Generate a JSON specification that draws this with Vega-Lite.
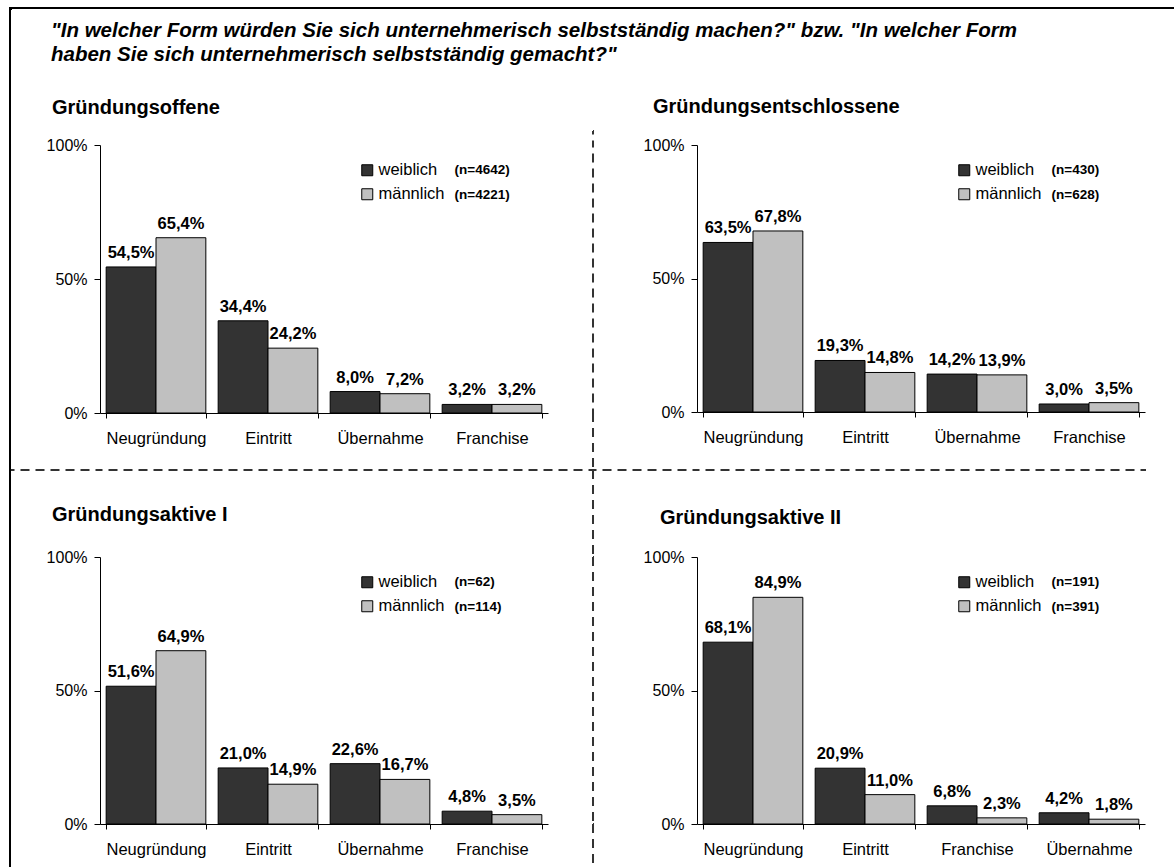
{
  "$schema": "https://vega.github.io/schema/vega-lite/v6.json",
  "background": "white",
  "padding": {"left": 9, "top": 7, "right": 0, "bottom": 0},
  "data": {"values": [{"a": 1}]},
  "datasets": {
    "p1": [
      {"kat": "Neugründung", "g": "weiblich", "wert": 0.545, "nlab": "(n=4642)"},
      {"kat": "Neugründung", "g": "männlich", "wert": 0.654, "nlab": "(n=4221)"},
      {"kat": "Eintritt", "g": "weiblich", "wert": 0.344, "nlab": "(n=4642)"},
      {"kat": "Eintritt", "g": "männlich", "wert": 0.242, "nlab": "(n=4221)"},
      {"kat": "Übernahme", "g": "weiblich", "wert": 0.080, "nlab": "(n=4642)"},
      {"kat": "Übernahme", "g": "männlich", "wert": 0.072, "nlab": "(n=4221)"},
      {"kat": "Franchise", "g": "weiblich", "wert": 0.032, "nlab": "(n=4642)"},
      {"kat": "Franchise", "g": "männlich", "wert": 0.032, "nlab": "(n=4221)"}
    ],
    "p2": [
      {"kat": "Neugründung", "g": "weiblich", "wert": 0.635, "nlab": "(n=430)"},
      {"kat": "Neugründung", "g": "männlich", "wert": 0.678, "nlab": "(n=628)"},
      {"kat": "Eintritt", "g": "weiblich", "wert": 0.193, "nlab": "(n=430)"},
      {"kat": "Eintritt", "g": "männlich", "wert": 0.148, "nlab": "(n=628)"},
      {"kat": "Übernahme", "g": "weiblich", "wert": 0.142, "nlab": "(n=430)"},
      {"kat": "Übernahme", "g": "männlich", "wert": 0.139, "nlab": "(n=628)"},
      {"kat": "Franchise", "g": "weiblich", "wert": 0.030, "nlab": "(n=430)"},
      {"kat": "Franchise", "g": "männlich", "wert": 0.035, "nlab": "(n=628)"}
    ],
    "p3": [
      {"kat": "Neugründung", "g": "weiblich", "wert": 0.516, "nlab": "(n=62)"},
      {"kat": "Neugründung", "g": "männlich", "wert": 0.649, "nlab": "(n=114)"},
      {"kat": "Eintritt", "g": "weiblich", "wert": 0.210, "nlab": "(n=62)"},
      {"kat": "Eintritt", "g": "männlich", "wert": 0.149, "nlab": "(n=114)"},
      {"kat": "Übernahme", "g": "weiblich", "wert": 0.226, "nlab": "(n=62)"},
      {"kat": "Übernahme", "g": "männlich", "wert": 0.167, "nlab": "(n=114)"},
      {"kat": "Franchise", "g": "weiblich", "wert": 0.048, "nlab": "(n=62)"},
      {"kat": "Franchise", "g": "männlich", "wert": 0.035, "nlab": "(n=114)"}
    ],
    "p4": [
      {"kat": "Neugründung", "g": "weiblich", "wert": 0.681, "nlab": "(n=191)"},
      {"kat": "Neugründung", "g": "männlich", "wert": 0.849, "nlab": "(n=391)"},
      {"kat": "Eintritt", "g": "weiblich", "wert": 0.209, "nlab": "(n=191)"},
      {"kat": "Eintritt", "g": "männlich", "wert": 0.110, "nlab": "(n=391)"},
      {"kat": "Franchise", "g": "weiblich", "wert": 0.068, "nlab": "(n=191)"},
      {"kat": "Franchise", "g": "männlich", "wert": 0.023, "nlab": "(n=391)"},
      {"kat": "Übernahme", "g": "weiblich", "wert": 0.042, "nlab": "(n=191)"},
      {"kat": "Übernahme", "g": "männlich", "wert": 0.018, "nlab": "(n=391)"}
    ]
  },
  "columns": 8,
  "spacing": {"row": 0, "column": 0},
  "align": "each",
  "bounds": "flush",
  "resolve": {
    "scale": {"color": "independent", "shape": "independent"},
    "legend": {"color": "independent", "shape": "independent"}
  },
  "concat": [
    {"width": 1, "height": 1, "view": {"stroke": "black", "strokeWidth": 2}, "mark": {"type": "point", "size": 0, "opacity": 0}, "encoding": {}},
    {"width": 89, "height": 0.01, "view": {"stroke": "black", "strokeWidth": 2},
     "title": {"text": ["\"In welcher Form würden Sie sich unternehmerisch selbstständig machen?\" bzw. \"In welcher Form", "haben Sie sich unternehmerisch selbstständig gemacht?\""], "orient": "bottom", "anchor": "start", "frame": "group", "dx": 40, "offset": 13, "baseline": "top", "fontSize": 20.5, "fontWeight": "bold", "fontStyle": "italic", "lineHeight": 24, "color": "black"},
     "mark": {"type": "point", "size": 0, "opacity": 0}, "encoding": {}},
    {"width": 448, "height": 0.01, "view": {"stroke": "black", "strokeWidth": 2}, "mark": {"type": "point", "size": 0, "opacity": 0}, "encoding": {}},
    {"width": 45, "height": 0.01, "view": {"stroke": "black", "strokeWidth": 2}, "mark": {"type": "point", "size": 0, "opacity": 0}, "encoding": {}},
    {"width": 1, "height": 0.01, "view": {"stroke": "black", "strokeWidth": 2}, "mark": {"type": "point", "size": 0, "opacity": 0}, "encoding": {}},
    {"width": 103, "height": 0.01, "view": {"stroke": "black", "strokeWidth": 2}, "mark": {"type": "point", "size": 0, "opacity": 0}, "encoding": {}},
    {"width": 448, "height": 0.01, "view": {"stroke": "black", "strokeWidth": 2}, "mark": {"type": "point", "size": 0, "opacity": 0}, "encoding": {}},
    {"width": 28, "height": 0.01, "view": {"stroke": "black", "strokeWidth": 2}, "mark": {"type": "point", "size": 0, "opacity": 0}, "encoding": {}},

    {"width": 0.01, "height": 122, "view": {"stroke": "black", "strokeWidth": 2}, "mark": {"type": "point", "size": 0, "opacity": 0}, "encoding": {}},
    {"width": 89, "height": 0.01, "mark": {"type": "point", "size": 0, "opacity": 0}, "encoding": {}},
    {"width": 448, "height": 0.01, "mark": {"type": "point", "size": 0, "opacity": 0}, "encoding": {}},
    {"width": 45, "height": 0.01, "mark": {"type": "point", "size": 0, "opacity": 0}, "encoding": {}},
    {"width": 0.01, "height": 0.01, "mark": {"type": "point", "size": 0, "opacity": 0}, "encoding": {}},
    {"width": 103, "height": 0.01, "mark": {"type": "point", "size": 0, "opacity": 0}, "encoding": {}},
    {"width": 448, "height": 0.01, "mark": {"type": "point", "size": 0, "opacity": 0}, "encoding": {}},
    {"width": 28, "height": 0.01, "mark": {"type": "point", "size": 0, "opacity": 0}, "encoding": {}},

    {"width": 0.01, "height": 14, "view": {"stroke": "black", "strokeWidth": 2}, "mark": {"type": "point", "size": 0, "opacity": 0}, "encoding": {}},
    {"width": 89, "height": 0.01, "mark": {"type": "point", "size": 0, "opacity": 0}, "encoding": {}},
    {"width": 448, "height": 0.01, "mark": {"type": "point", "size": 0, "opacity": 0}, "encoding": {}},
    {"width": 45, "height": 0.01, "mark": {"type": "point", "size": 0, "opacity": 0}, "encoding": {}},
    {"width": 0.01, "height": 14, "view": {"stroke": "#333333", "strokeWidth": 2, "strokeDash": [9, 6], "strokeDashOffset": 5.5}, "mark": {"type": "point", "size": 0, "opacity": 0}, "encoding": {}},
    {"width": 103, "height": 0.01, "mark": {"type": "point", "size": 0, "opacity": 0}, "encoding": {}},
    {"width": 448, "height": 0.01, "mark": {"type": "point", "size": 0, "opacity": 0}, "encoding": {}},
    {"width": 28, "height": 0.01, "mark": {"type": "point", "size": 0, "opacity": 0}, "encoding": {}},

    {"width": 0.01, "height": 268, "view": {"stroke": "black", "strokeWidth": 2}, "mark": {"type": "point", "size": 0, "opacity": 0}, "encoding": {}},
    {"width": 89, "height": 0.01, "mark": {"type": "point", "size": 0, "opacity": 0}, "encoding": {}},
    {
      "width": 448, "height": 268,
      "data": {"name": "p1"},
      "title": {"text": "Gründungsoffene", "anchor": "start", "frame": "group", "dx": -48, "offset": 3, "fontSize": 20, "fontWeight": "bold", "color": "black", "baseline": "alphabetic"},
      "encoding": {
        "x": {"field": "kat", "type": "nominal", "sort": ["Neugründung", "Eintritt", "Übernahme", "Franchise"], "scale": {"paddingInner": 0.11, "paddingOuter": 0.055}, "axis": {"title": null, "labelAngle": 0, "tickBand": "extent", "labelPadding": 12, "tickSize": 5}},
        "y": {"field": "wert", "type": "quantitative", "scale": {"domain": [0, 1]}, "axis": {"title": null, "values": [0, 0.5, 1], "format": ".0%", "grid": false, "tickSize": 6, "labelPadding": 7}},
        "xOffset": {"field": "g", "type": "nominal", "sort": ["weiblich", "männlich"], "scale": {"paddingInner": 0, "paddingOuter": 0}}
      },
      "layer": [
        {"mark": {"type": "bar", "stroke": "black", "strokeWidth": 1},
         "encoding": {"color": {"field": "g", "type": "nominal", "sort": ["weiblich", "männlich"], "scale": {"domain": ["weiblich", "männlich"], "range": ["#333333", "#c0c0c0"]},
           "legend": {"title": null, "orient": "none", "legendX": 259, "legendY": 17, "symbolType": "square", "symbolSize": 121, "symbolStrokeColor": "black", "symbolStrokeWidth": 1, "labelFontSize": 16.5, "labelOffset": 3, "rowPadding": 7, "labelColor": "black"}}}},
        {"mark": {"type": "text", "dy": -9, "baseline": "alphabetic", "fontWeight": "bold", "fontSize": 16.5, "color": "black"},
         "encoding": {"text": {"field": "wert", "type": "quantitative", "format": ".1%"}}},
        {"mark": {"type": "point", "opacity": 0, "size": 0},
         "encoding": {"shape": {"field": "nlab", "type": "nominal", "sort": ["(n=4642)", "(n=4221)"],
           "legend": {"title": null, "orient": "none", "legendX": 341, "legendY": 18.5, "symbolSize": 0, "symbolOpacity": 0, "symbolStrokeWidth": 0, "labelFontSize": 13.5, "labelFontWeight": "bold", "labelOffset": 0, "rowPadding": 10, "labelColor": "black"}}}}
      ]
    },
    {"width": 45, "height": 0.01, "mark": {"type": "point", "size": 0, "opacity": 0}, "encoding": {}},
    {"width": 0.01, "height": 268, "view": {"stroke": "#333333", "strokeWidth": 2, "strokeDash": [9, 6], "strokeDashOffset": 6.5}, "mark": {"type": "point", "size": 0, "opacity": 0}, "encoding": {}},
    {"width": 103, "height": 0.01, "mark": {"type": "point", "size": 0, "opacity": 0}, "encoding": {}},
    {
      "width": 448, "height": 267,
      "data": {"name": "p2"},
      "title": {"text": "Gründungsentschlossene", "anchor": "start", "frame": "group", "dx": -44, "offset": 4, "fontSize": 20, "fontWeight": "bold", "color": "black", "baseline": "alphabetic"},
      "encoding": {
        "x": {"field": "kat", "type": "nominal", "sort": ["Neugründung", "Eintritt", "Übernahme", "Franchise"], "scale": {"paddingInner": 0.11, "paddingOuter": 0.055}, "axis": {"title": null, "labelAngle": 0, "tickBand": "extent", "labelPadding": 12, "tickSize": 5}},
        "y": {"field": "wert", "type": "quantitative", "scale": {"domain": [0, 1]}, "axis": {"title": null, "values": [0, 0.5, 1], "format": ".0%", "grid": false, "tickSize": 6, "labelPadding": 7}},
        "xOffset": {"field": "g", "type": "nominal", "sort": ["weiblich", "männlich"], "scale": {"paddingInner": 0, "paddingOuter": 0}}
      },
      "layer": [
        {"mark": {"type": "bar", "stroke": "black", "strokeWidth": 1},
         "encoding": {"color": {"field": "g", "type": "nominal", "sort": ["weiblich", "männlich"], "scale": {"domain": ["weiblich", "männlich"], "range": ["#333333", "#c0c0c0"]},
           "legend": {"title": null, "orient": "none", "legendX": 259, "legendY": 17, "symbolType": "square", "symbolSize": 121, "symbolStrokeColor": "black", "symbolStrokeWidth": 1, "labelFontSize": 16.5, "labelOffset": 3, "rowPadding": 7, "labelColor": "black"}}}},
        {"mark": {"type": "text", "dy": -9, "baseline": "alphabetic", "fontWeight": "bold", "fontSize": 16.5, "color": "black"},
         "encoding": {"text": {"field": "wert", "type": "quantitative", "format": ".1%"}}},
        {"mark": {"type": "point", "opacity": 0, "size": 0},
         "encoding": {"shape": {"field": "nlab", "type": "nominal", "sort": ["(n=430)", "(n=628)"],
           "legend": {"title": null, "orient": "none", "legendX": 341, "legendY": 18.5, "symbolSize": 0, "symbolOpacity": 0, "symbolStrokeWidth": 0, "labelFontSize": 13.5, "labelFontWeight": "bold", "labelOffset": 0, "rowPadding": 10, "labelColor": "black"}}}}
      ]
    },
    {"width": 28, "height": 0.01, "mark": {"type": "point", "size": 0, "opacity": 0}, "encoding": {}},

    {"width": 0.01, "height": 57, "view": {"stroke": "black", "strokeWidth": 2}, "mark": {"type": "point", "size": 0, "opacity": 0}, "encoding": {}},
    {"width": 89, "height": 0.01, "mark": {"type": "point", "size": 0, "opacity": 0}, "encoding": {}},
    {"width": 448, "height": 0.01, "mark": {"type": "point", "size": 0, "opacity": 0}, "encoding": {}},
    {"width": 45, "height": 0.01, "mark": {"type": "point", "size": 0, "opacity": 0}, "encoding": {}},
    {"width": 0.01, "height": 57, "view": {"stroke": "#333333", "strokeWidth": 2, "strokeDash": [9, 6], "strokeDashOffset": 0}, "mark": {"type": "point", "size": 0, "opacity": 0}, "encoding": {}},
    {"width": 103, "height": 0.01, "mark": {"type": "point", "size": 0, "opacity": 0}, "encoding": {}},
    {"width": 448, "height": 0.01, "mark": {"type": "point", "size": 0, "opacity": 0}, "encoding": {}},
    {"width": 28, "height": 0.01, "mark": {"type": "point", "size": 0, "opacity": 0}, "encoding": {}},

    {"width": 0.01, "height": 1, "view": {"stroke": "black", "strokeWidth": 2}, "mark": {"type": "point", "size": 0, "opacity": 0}, "encoding": {}},
    {"width": 89, "height": 0.01, "view": {"stroke": "#333333", "strokeWidth": 2, "strokeDash": [9, 6], "strokeDashOffset": 5.5}, "mark": {"type": "point", "size": 0, "opacity": 0}, "encoding": {}},
    {"width": 448, "height": 0.01, "view": {"stroke": "#333333", "strokeWidth": 2, "strokeDash": [9, 6], "strokeDashOffset": 6.5}, "mark": {"type": "point", "size": 0, "opacity": 0}, "encoding": {}},
    {"width": 45, "height": 0.01, "view": {"stroke": "#333333", "strokeWidth": 2, "strokeDash": [9, 6], "strokeDashOffset": 4.5}, "mark": {"type": "point", "size": 0, "opacity": 0}, "encoding": {}},
    {"width": 1, "height": 0.01, "view": {"stroke": "#333333", "strokeWidth": 2, "strokeDash": [9, 6], "strokeDashOffset": 3.5}, "mark": {"type": "point", "size": 0, "opacity": 0}, "encoding": {}},
    {"width": 103, "height": 0.01, "view": {"stroke": "#333333", "strokeWidth": 2, "strokeDash": [9, 6], "strokeDashOffset": 6.5}, "mark": {"type": "point", "size": 0, "opacity": 0}, "encoding": {}},
    {"width": 448, "height": 0.01, "view": {"stroke": "#333333", "strokeWidth": 2, "strokeDash": [9, 6], "strokeDashOffset": 6.5}, "mark": {"type": "point", "size": 0, "opacity": 0}, "encoding": {}},
    {"width": 28, "height": 0.01, "mark": {"type": "point", "size": 0, "opacity": 0}, "encoding": {}},

    {"width": 0.01, "height": 86, "view": {"stroke": "black", "strokeWidth": 2}, "mark": {"type": "point", "size": 0, "opacity": 0}, "encoding": {}},
    {"width": 89, "height": 0.01, "mark": {"type": "point", "size": 0, "opacity": 0}, "encoding": {}},
    {"width": 448, "height": 0.01, "mark": {"type": "point", "size": 0, "opacity": 0}, "encoding": {}},
    {"width": 45, "height": 0.01, "mark": {"type": "point", "size": 0, "opacity": 0}, "encoding": {}},
    {"width": 0.01, "height": 86, "view": {"stroke": "#333333", "strokeWidth": 2, "strokeDash": [9, 6], "strokeDashOffset": 1}, "mark": {"type": "point", "size": 0, "opacity": 0}, "encoding": {}},
    {"width": 103, "height": 0.01, "mark": {"type": "point", "size": 0, "opacity": 0}, "encoding": {}},
    {"width": 448, "height": 0.01, "mark": {"type": "point", "size": 0, "opacity": 0}, "encoding": {}},
    {"width": 28, "height": 0.01, "mark": {"type": "point", "size": 0, "opacity": 0}, "encoding": {}},

    {"width": 0.01, "height": 267, "view": {"stroke": "black", "strokeWidth": 2}, "mark": {"type": "point", "size": 0, "opacity": 0}, "encoding": {}},
    {"width": 89, "height": 0.01, "mark": {"type": "point", "size": 0, "opacity": 0}, "encoding": {}},
    {
      "width": 448, "height": 267,
      "data": {"name": "p3"},
      "title": {"text": "Gründungsaktive I", "anchor": "start", "frame": "group", "dx": -48, "offset": 8, "fontSize": 20, "fontWeight": "bold", "color": "black", "baseline": "alphabetic"},
      "encoding": {
        "x": {"field": "kat", "type": "nominal", "sort": ["Neugründung", "Eintritt", "Übernahme", "Franchise"], "scale": {"paddingInner": 0.11, "paddingOuter": 0.055}, "axis": {"title": null, "labelAngle": 0, "tickBand": "extent", "labelPadding": 12, "tickSize": 5}},
        "y": {"field": "wert", "type": "quantitative", "scale": {"domain": [0, 1]}, "axis": {"title": null, "values": [0, 0.5, 1], "format": ".0%", "grid": false, "tickSize": 6, "labelPadding": 7}},
        "xOffset": {"field": "g", "type": "nominal", "sort": ["weiblich", "männlich"], "scale": {"paddingInner": 0, "paddingOuter": 0}}
      },
      "layer": [
        {"mark": {"type": "bar", "stroke": "black", "strokeWidth": 1},
         "encoding": {"color": {"field": "g", "type": "nominal", "sort": ["weiblich", "männlich"], "scale": {"domain": ["weiblich", "männlich"], "range": ["#333333", "#c0c0c0"]},
           "legend": {"title": null, "orient": "none", "legendX": 259, "legendY": 17, "symbolType": "square", "symbolSize": 121, "symbolStrokeColor": "black", "symbolStrokeWidth": 1, "labelFontSize": 16.5, "labelOffset": 3, "rowPadding": 7, "labelColor": "black"}}}},
        {"mark": {"type": "text", "dy": -9, "baseline": "alphabetic", "fontWeight": "bold", "fontSize": 16.5, "color": "black"},
         "encoding": {"text": {"field": "wert", "type": "quantitative", "format": ".1%"}}},
        {"mark": {"type": "point", "opacity": 0, "size": 0},
         "encoding": {"shape": {"field": "nlab", "type": "nominal", "sort": ["(n=62)", "(n=114)"],
           "legend": {"title": null, "orient": "none", "legendX": 341, "legendY": 18.5, "symbolSize": 0, "symbolOpacity": 0, "symbolStrokeWidth": 0, "labelFontSize": 13.5, "labelFontWeight": "bold", "labelOffset": 0, "rowPadding": 10, "labelColor": "black"}}}}
      ]
    },
    {"width": 45, "height": 0.01, "mark": {"type": "point", "size": 0, "opacity": 0}, "encoding": {}},
    {"width": 0.01, "height": 267, "view": {"stroke": "#333333", "strokeWidth": 2, "strokeDash": [9, 6], "strokeDashOffset": 0}, "mark": {"type": "point", "size": 0, "opacity": 0}, "encoding": {}},
    {"width": 103, "height": 0.01, "mark": {"type": "point", "size": 0, "opacity": 0}, "encoding": {}},
    {
      "width": 448, "height": 267,
      "data": {"name": "p4"},
      "title": {"text": "Gründungsaktive II", "anchor": "start", "frame": "group", "dx": -37, "offset": 5, "fontSize": 20, "fontWeight": "bold", "color": "black", "baseline": "alphabetic"},
      "encoding": {
        "x": {"field": "kat", "type": "nominal", "sort": ["Neugründung", "Eintritt", "Franchise", "Übernahme"], "scale": {"paddingInner": 0.11, "paddingOuter": 0.055}, "axis": {"title": null, "labelAngle": 0, "tickBand": "extent", "labelPadding": 12, "tickSize": 5}},
        "y": {"field": "wert", "type": "quantitative", "scale": {"domain": [0, 1]}, "axis": {"title": null, "values": [0, 0.5, 1], "format": ".0%", "grid": false, "tickSize": 6, "labelPadding": 7}},
        "xOffset": {"field": "g", "type": "nominal", "sort": ["weiblich", "männlich"], "scale": {"paddingInner": 0, "paddingOuter": 0}}
      },
      "layer": [
        {"mark": {"type": "bar", "stroke": "black", "strokeWidth": 1},
         "encoding": {"color": {"field": "g", "type": "nominal", "sort": ["weiblich", "männlich"], "scale": {"domain": ["weiblich", "männlich"], "range": ["#333333", "#c0c0c0"]},
           "legend": {"title": null, "orient": "none", "legendX": 259, "legendY": 17, "symbolType": "square", "symbolSize": 121, "symbolStrokeColor": "black", "symbolStrokeWidth": 1, "labelFontSize": 16.5, "labelOffset": 3, "rowPadding": 7, "labelColor": "black"}}}},
        {"mark": {"type": "text", "dy": -9, "baseline": "alphabetic", "fontWeight": "bold", "fontSize": 16.5, "color": "black"},
         "encoding": {"text": {"field": "wert", "type": "quantitative", "format": ".1%"}}},
        {"mark": {"type": "point", "opacity": 0, "size": 0},
         "encoding": {"shape": {"field": "nlab", "type": "nominal", "sort": ["(n=191)", "(n=391)"],
           "legend": {"title": null, "orient": "none", "legendX": 341, "legendY": 18.5, "symbolSize": 0, "symbolOpacity": 0, "symbolStrokeWidth": 0, "labelFontSize": 13.5, "labelFontWeight": "bold", "labelOffset": 0, "rowPadding": 10, "labelColor": "black"}}}}
      ]
    },
    {"width": 28, "height": 0.01, "mark": {"type": "point", "size": 0, "opacity": 0}, "encoding": {}},

    {"width": 0.01, "height": 42, "view": {"stroke": "black", "strokeWidth": 2}, "mark": {"type": "point", "size": 0, "opacity": 0}, "encoding": {}},
    {"width": 89, "height": 0.01, "mark": {"type": "point", "size": 0, "opacity": 0}, "encoding": {}},
    {"width": 448, "height": 0.01, "mark": {"type": "point", "size": 0, "opacity": 0}, "encoding": {}},
    {"width": 45, "height": 0.01, "mark": {"type": "point", "size": 0, "opacity": 0}, "encoding": {}},
    {"width": 0.01, "height": 42, "view": {"stroke": "#333333", "strokeWidth": 2, "strokeDash": [9, 6], "strokeDashOffset": 0}, "mark": {"type": "point", "size": 0, "opacity": 0}, "encoding": {}}
  ],
  "config": {
    "font": "Liberation Sans",
    "view": {"stroke": null},
    "axis": {"domainColor": "black", "tickColor": "black", "labelColor": "black", "labelFontSize": 16.5, "labelFont": "Liberation Sans", "domainWidth": 1, "tickWidth": 1, "grid": false},
    "axisY": {"labelFontSize": 16},
    "legend": {"labelFont": "Liberation Sans"},
    "title": {"font": "Liberation Sans", "color": "black"},
    "locale": {"number": {"decimal": ",", "thousands": ".", "grouping": [3], "currency": ["", " €"]}}
  }
}
